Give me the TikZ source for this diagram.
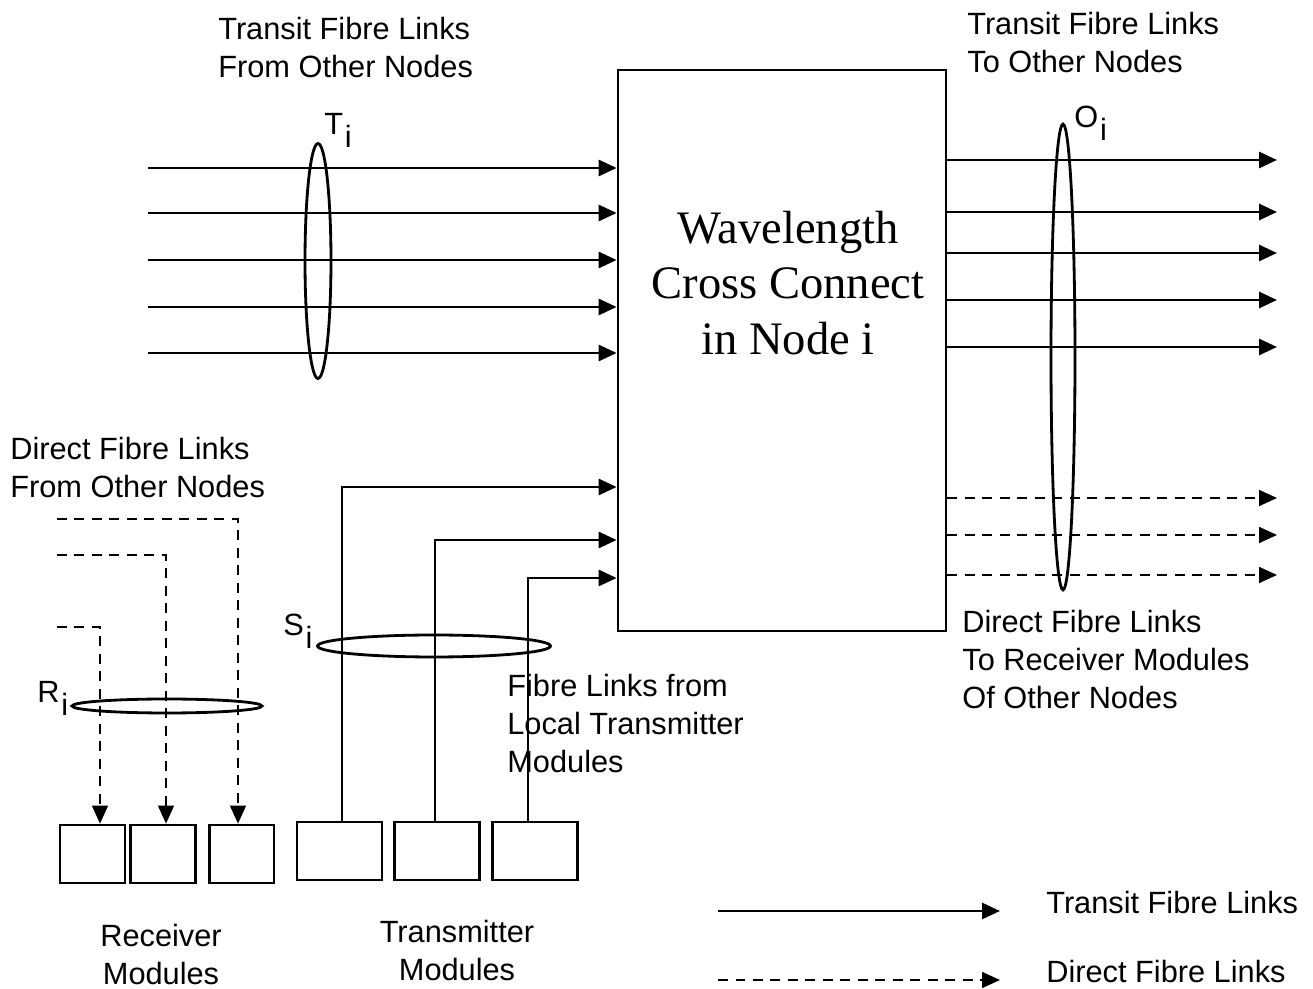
\documentclass[tikz,border=0pt]{standalone}
\usepackage{fontspec}
\setmainfont{Liberation Sans}
\newfontfamily\wxcfont{Liberation Serif}
\usepackage{tikz}
\usetikzlibrary{arrows.meta,positioning,shapes.geometric}
\newcommand{\subi}{\hspace{1pt}\raisebox{-7pt}{i}}

\begin{document}
\begin{tikzpicture}[x=0.02cm,y=-0.02cm,
    transit/.style={line width=1.6pt,-{Triangle[length=0.36cm,width=0.32cm]}},
    direct/.style={line width=0.9pt,dash pattern=on 0.2cm off 0.15cm,-{Triangle[length=0.36cm,width=0.32cm]}},
    module/.style={rectangle,draw,line width=1.6pt,minimum height=1.16cm,inner sep=0pt},
    bundle/.style={ellipse,draw,line width=1.6pt,inner sep=0pt},
    caption/.style={align=left,font=\fontsize{17.5}{21.5}\selectfont,inner sep=0pt},
]
\useasboundingbox (0,0) rectangle (1313,989);

% cross connect
\node[rectangle,draw,line width=1.6pt,minimum width=6.56cm,minimum height=11.22cm,inner sep=0pt] (wxc) at (782,350.5) {};
\node[align=center,font=\wxcfont\fontsize{26.5}{31.7}\selectfont] (title) at (788,283) {Wavelength\\Cross Connect\\in Node i};

% transit in
\foreach \y [count=\k] in {168,213,260,307,353}{
  \coordinate (t\k) at (148,\y);
  \draw[transit] (t\k) -- (t\k -| wxc.west);
}
\node[bundle,minimum width=0.52cm,minimum height=4.7cm] (Tring) at (318,261) {};
\node[caption,anchor=base west] (Tlab) at (324,135) {T\subi};
\node[caption,anchor=north west] (tin) at (218,17) {Transit Fibre Links\\From Other Nodes};

% transit out
\foreach \y [count=\k] in {160,212,253,300,347}{
  \coordinate (o\k) at (1277,\y);
  \draw[transit] (o\k -| wxc.east) -- (o\k);
}
\foreach \y [count=\k] in {498,535,575}{
  \coordinate (p\k) at (1277,\y);
  \draw[direct] (p\k -| wxc.east) -- (p\k);
}
\node[bundle,minimum width=0.48cm,minimum height=9.32cm] (Oring) at (1063,357) {};
\node[caption,anchor=base west] (Olab) at (1074,128) {O\subi};
\node[caption,anchor=north west] (tout) at (967,12) {Transit Fibre Links\\To Other Nodes};
\node[caption,anchor=north west] (dout) at (962,610) {Direct Fibre Links\\To Receiver Modules\\Of Other Nodes};

% receiver modules
\node[module,minimum width=1.3cm] (rx1) at (92.5,854) {};
\node[module,minimum width=1.3cm,right=0.06cm of rx1] (rx2) {};
\node[module,minimum width=1.3cm,right=0.21cm of rx2] (rx3) {};
\node[caption,align=center,anchor=north] (rxlab) at (161,924) {Receiver\\Modules};

\coordinate (d1) at (57,627);
\coordinate (d2) at (57,555);
\coordinate (d3) at (57,519);
\coordinate (c1) at (100,627);
\coordinate (c2) at (166,555);
\coordinate (c3) at (238,519);
\foreach \k in {1,2,3}
  \draw[direct] (d\k) -- (c\k) -- (c\k |- rx\k.north);
\node[bundle,minimum width=3.8cm,minimum height=0.28cm] (Rring) at (167,706) {};
\node[caption,anchor=base west] (Rlab) at (37,703) {R\subi};
\node[caption,anchor=north west] (din) at (10,437) {Direct Fibre Links\\From Other Nodes};

% transmitter modules
\node[module,minimum width=1.7cm] (tx1) at (339.5,851) {};
\node[module,minimum width=1.7cm,right=0.2cm of tx1] (tx2) {};
\node[module,minimum width=1.7cm,right=0.2cm of tx2] (tx3) {};
\node[caption,align=center,anchor=north] (txlab) at (457,920) {Transmitter\\Modules};

\coordinate (s1) at (342,487);
\coordinate (s2) at (435,540);
\coordinate (s3) at (528,578);
\foreach \k in {1,2,3}
  \draw[transit] (s\k |- tx\k.north) -- (s\k) -- (s\k -| wxc.west);
\node[bundle,minimum width=4.66cm,minimum height=0.44cm] (Sring) at (434,646) {};
\node[caption,anchor=base west] (Slab) at (283,636) {S\subi};
\node[caption,anchor=north west] (slab) at (507,674) {Fibre Links from\\Local Transmitter\\Modules};

% legend
\coordinate (l1) at (718,911);
\coordinate (l2) at (1000,911);
\coordinate (l3) at (718,980);
\coordinate (l4) at (1000,980);
\draw[transit] (l1) -- (l2);
\draw[direct] (l3) -- (l4);
\node[caption,anchor=west] (ltr) at (1046,903) {Transit Fibre Links};
\node[caption,anchor=west] (ldr) at (1046,972) {Direct Fibre Links};
\end{tikzpicture}
\end{document}
